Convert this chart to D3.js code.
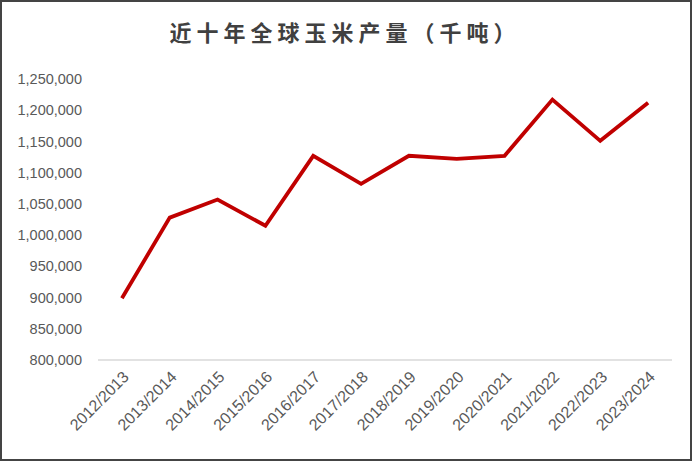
<!DOCTYPE html>
<html>
<head>
<meta charset="utf-8">
<script src="https://cdn.jsdelivr.net/npm/d3@7"></script>
<style>
  html, body { margin: 0; padding: 0; background: #fff; }
  svg { display: block; }
</style>
</head>
<body>
<svg id="chart" width="695" height="463"></svg>
<script>
const title = "近十年全球玉米产量（千吨）";
const categories = ["2012/2013","2013/2014","2014/2015","2015/2016","2016/2017","2017/2018",
                    "2018/2019","2019/2020","2020/2021","2021/2022","2022/2023","2023/2024"];
const production = [899000, 1028000, 1057000, 1015000, 1127000, 1082000,
                    1127000, 1122000, 1127000, 1217000, 1151000, 1212000];
const yTicks = [800000, 850000, 900000, 950000, 1000000, 1050000, 1100000, 1150000, 1200000, 1250000];

const svg = d3.select("#chart");
const plot = { left: 98, right: 672, top: 79, bottom: 360 };

svg.append("rect").attr("x", 1).attr("y", 1).attr("width", 690).attr("height", 459)
   .attr("fill", "#fff").attr("stroke", "#444").attr("stroke-width", 2);

svg.append("text").attr("x", 345).attr("y", 41)
   .attr("text-anchor", "middle")
   .attr("font-family", "'Noto Sans CJK SC'")
   .attr("font-size", 22).attr("font-weight", 700)
   .attr("letter-spacing", 5)
   .attr("fill", "#404040")
   .text(title);

const x = d3.scaleBand().domain(categories).range([plot.left, plot.right]);
const y = d3.scaleLinear().domain([800000, 1250000]).range([plot.bottom, plot.top]);
const fmt = d3.format(",");

// y axis labels
const yAxis = d3.axisLeft(y).tickValues(yTicks).tickFormat(fmt).tickSize(0).tickPadding(0);
const gy = svg.append("g").attr("transform", "translate(82,0)").call(yAxis);
gy.select(".domain").remove();
gy.selectAll("text").attr("font-family", "'Liberation Sans', Arial, sans-serif")
  .attr("font-size", 14.5).attr("fill", "#595959");

// baseline
svg.append("line").attr("x1", plot.left).attr("x2", plot.right)
   .attr("y1", y(800000)).attr("y2", y(800000))
   .attr("stroke", "#d9d9d9").attr("stroke-width", 1.5);

// x axis labels
const xAxis = d3.axisBottom(x).tickSize(0).tickPadding(0);
const gx = svg.append("g").attr("transform", `translate(0,${plot.bottom})`).call(xAxis);
gx.select(".domain").remove();
gx.selectAll("text")
  .attr("font-family", "'Liberation Sans', Arial, sans-serif")
  .attr("font-size", 16).attr("fill", "#595959")
  .attr("text-anchor", "end")
  .attr("dy", null)
  .attr("y", 0)
  .attr("transform", "translate(5,15) rotate(-45)")
  .attr("dominant-baseline", "middle");

// line
const line = d3.line()
  .x((d, i) => x(categories[i]) + x.bandwidth() / 2)
  .y(d => y(d));
svg.append("path").datum(production)
   .attr("d", line)
   .attr("fill", "none")
   .attr("stroke", "#C00000")
   .attr("stroke-width", 3.8)
   .attr("stroke-linejoin", "miter");
</script>
</body>
</html>
